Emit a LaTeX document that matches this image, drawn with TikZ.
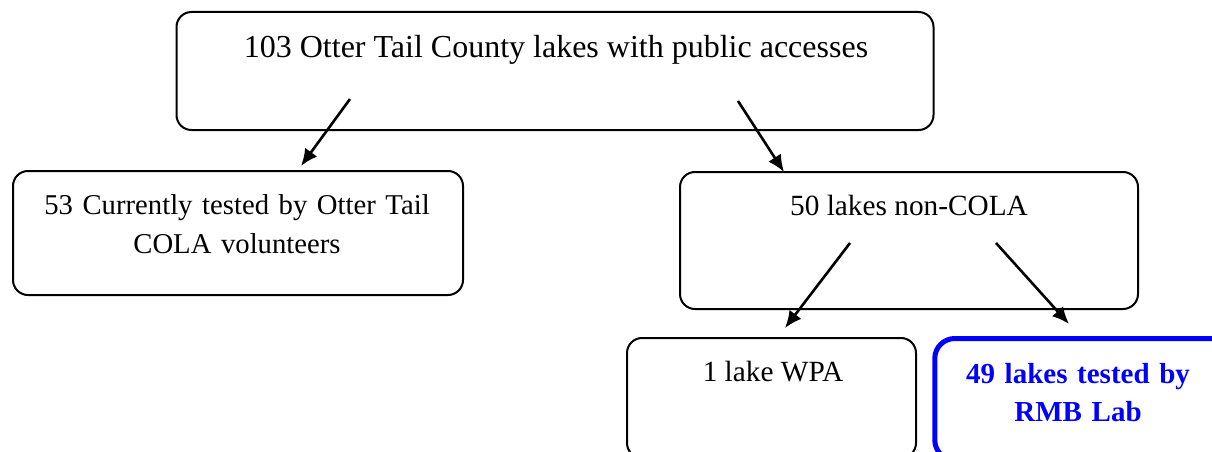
\documentclass[tikz,border=0pt]{standalone}
\usepackage{fontspec}
\setmainfont{Liberation Serif}
\usetikzlibrary{arrows.meta}
\definecolor{accblue}{RGB}{0,0,255}
\begin{document}
\begin{tikzpicture}[x=1pt,y=-1pt,
  box/.style={draw=black, line width=2pt, rounded corners=15pt, inner sep=0pt},
  bluebox/.style={draw=accblue, line width=5pt, rounded corners=20pt, inner sep=0pt},
  lbl/.style={inner sep=0pt, anchor=base, align=center, font=\fontsize{29.3}{39}\selectfont},
  conn/.style={line width=2.6pt, -{Latex[length=17pt,width=15pt]}}
]
\useasboundingbox[fill=white] (0,0) rectangle (1212,452);

% boxes
\node[box, minimum width=757pt, minimum height=118pt] (topbox) at (555,71) {};
\node[box, minimum width=450pt, minimum height=124pt] (leftbox) at (238,233) {};
\node[box, minimum width=458pt, minimum height=137pt] (midbox) at (909,240.5) {};
\node[box, minimum width=289pt, minimum height=120pt] (wpabox) at (771.5,398) {};
\node[bluebox, minimum width=300pt, minimum height=121.5pt] (rmbbox) at (1084.75,399.25) {};

% texts
\node[lbl, font=\fontsize{32}{39}\selectfont] (toptext) at (556,57) {103 Otter Tail County lakes with public accesses};
\node[lbl, text width=440pt, font=\fontsize{28.7}{39}\selectfont] (lefttext) at (237,214) {53 Currently tested by Otter Tail\\COLA volunteers};
\node[lbl] (midtext) at (909,215) {50 lakes non-COLA};
\node[lbl] (wpatext) at (773,381) {1 lake WPA};
\node[lbl, text width=280pt, text=accblue, font=\fontsize{29}{38}\selectfont\bfseries] (rmbtext) at (1078,383) {49 lakes tested by\\RMB Lab};

% connectors
\coordinate (s1) at (350,99);  \coordinate (e1) at (301,166);
\coordinate (s2) at (738,101); \coordinate (e2) at (784,172);
\coordinate (s3) at (850,243); \coordinate (e3) at (785,328);
\coordinate (s4) at (996,243); \coordinate (e4) at (1069,324);
\draw[conn] (s1) -- (e1);
\draw[conn] (s2) -- (e2);
\draw[conn] (s3) -- (e3);
\draw[conn] (s4) -- (e4);
\end{tikzpicture}
\end{document}
